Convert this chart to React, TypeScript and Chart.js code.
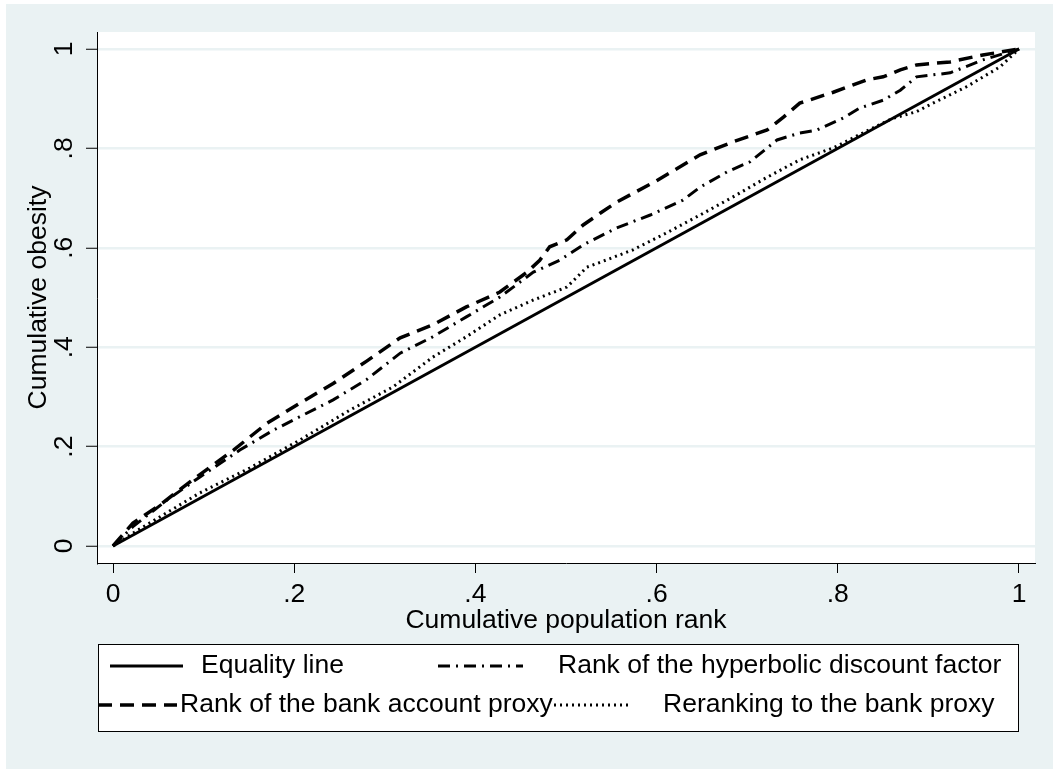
import React, { useEffect, useRef } from "react";
import { Chart, registerables } from "chart.js";

Chart.register(...registerables);

// ---------- data ----------
const EQ_X = [0, 1];
const EQ_Y = [0, 1];

const HYP_X = [0, 0.022, 0.06, 0.096, 0.14, 0.177, 0.206, 0.243, 0.28, 0.317, 0.353, 0.39, 0.427, 0.464, 0.493, 0.519, 0.556, 0.593, 0.629, 0.648, 0.678, 0.703, 0.733, 0.758, 0.777, 0.806, 0.824, 0.85, 0.869, 0.887, 0.924, 0.96, 1];
const HYP_Y = [0, 0.039, 0.093, 0.139, 0.193, 0.233, 0.26, 0.294, 0.335, 0.388, 0.421, 0.461, 0.501, 0.551, 0.575, 0.606, 0.64, 0.666, 0.696, 0.722, 0.753, 0.773, 0.817, 0.831, 0.837, 0.861, 0.881, 0.897, 0.917, 0.944, 0.952, 0.978, 1];

const BANK_X = [0, 0.022, 0.052, 0.085, 0.133, 0.17, 0.206, 0.243, 0.28, 0.317, 0.353, 0.39, 0.427, 0.457, 0.471, 0.482, 0.501, 0.519, 0.538, 0.556, 0.6, 0.648, 0.684, 0.722, 0.74, 0.758, 0.795, 0.832, 0.85, 0.869, 0.887, 0.924, 0.96, 1];
const BANK_Y = [0, 0.046, 0.083, 0.129, 0.193, 0.247, 0.287, 0.327, 0.372, 0.419, 0.445, 0.481, 0.511, 0.551, 0.575, 0.602, 0.616, 0.646, 0.67, 0.692, 0.735, 0.787, 0.813, 0.837, 0.863, 0.891, 0.913, 0.938, 0.944, 0.958, 0.968, 0.974, 0.988, 1];

const RR_X = [0, 0.022, 0.096, 0.151, 0.206, 0.262, 0.309, 0.353, 0.39, 0.427, 0.464, 0.501, 0.523, 0.538, 0.574, 0.611, 0.648, 0.684, 0.722, 0.758, 0.795, 0.832, 0.86, 0.887, 0.905, 0.942, 0.979, 1];
const RR_Y = [0, 0.026, 0.107, 0.157, 0.213, 0.274, 0.32, 0.38, 0.421, 0.465, 0.495, 0.521, 0.561, 0.571, 0.596, 0.63, 0.666, 0.702, 0.742, 0.777, 0.801, 0.835, 0.86, 0.874, 0.891, 0.924, 0.964, 1];

const TICK_VALUES = [0, 0.2, 0.4, 0.6, 0.8, 1];
const TICK_LABELS = ["0", ".2", ".4", ".6", ".8", "1"];
const SERIES_LABELS = [
  "Equality line",
  "Rank of the hyperbolic discount factor",
  "Rank of the bank account proxy",
  "Reranking to the bank proxy",
];
const X_TITLE = "Cumulative population rank";
const Y_TITLE = "Cumulative obesity";

// ---------- styles ----------
const BG = "#eaf2f3";
const GRID = "#eaf2f3";
const FONT_FAMILY = "'Liberation Sans', Arial, Helvetica, sans-serif";
const FONT_SIZE = 26.5;
const W = 1053;
const H = 770;

const LEGEND_BOX = { x: 98, y: 644, w: 920, h: 87 };
const LEGEND_LAYOUT = [
  { x1: 110, x2: 183, y: 666, tx: 201 },
  { x1: 438, x2: 523, y: 666, tx: 558 },
  { x1: 98, x2: 177, y: 705, tx: 180 },
  { x1: 554, x2: 630, y: 705, tx: 663 },
];

const zip = (xs: number[], ys: number[]) => xs.map((x, i) => ({ x, y: ys[i] }));

const tickLabel = (value: number) => {
  const i = TICK_VALUES.findIndex((t) => Math.abs(t - value) < 1e-9);
  return i >= 0 ? TICK_LABELS[i] : "";
};

const bgPlugin = {
  id: "stataBg",
  beforeDraw(chart: any) {
    const { ctx, chartArea } = chart;
    ctx.save();
    ctx.fillStyle = "#ffffff";
    ctx.fillRect(0, 0, chart.width, chart.height);
    ctx.fillStyle = BG;
    ctx.fillRect(6, 4, chart.width - 6, chart.height - 5);
    ctx.fillStyle = "#ffffff";
    ctx.fillRect(chartArea.left, chartArea.top, chartArea.right - chartArea.left, chartArea.bottom - chartArea.top);
    ctx.restore();
  },
};

const legendPlugin = {
  id: "stataLegend",
  afterDraw(chart: any) {
    const ctx = chart.ctx;
    ctx.save();
    ctx.fillStyle = "#ffffff";
    ctx.fillRect(LEGEND_BOX.x, LEGEND_BOX.y, LEGEND_BOX.w, LEGEND_BOX.h);
    ctx.strokeStyle = "#000";
    ctx.lineWidth = 1;
    ctx.setLineDash([]);
    ctx.strokeRect(LEGEND_BOX.x + 0.5, LEGEND_BOX.y + 0.5, LEGEND_BOX.w, LEGEND_BOX.h);
    chart.data.datasets.forEach((ds: any, i: number) => {
      const L = LEGEND_LAYOUT[i];
      ctx.beginPath();
      ctx.setLineDash(ds.borderDash || []);
      ctx.lineWidth = ds.borderWidth;
      ctx.strokeStyle = ds.borderColor;
      ctx.moveTo(L.x1, L.y);
      ctx.lineTo(L.x2, L.y);
      ctx.stroke();
      ctx.setLineDash([]);
      ctx.fillStyle = "#000";
      ctx.font = `${FONT_SIZE}px ${FONT_FAMILY}`;
      ctx.textBaseline = "middle";
      ctx.textAlign = "left";
      ctx.fillText(ds.label, L.tx, L.y);
    });
    ctx.restore();
  },
};

export default function App() {
  const ref = useRef<HTMLCanvasElement | null>(null);

  useEffect(() => {
    if (!ref.current) return;
    const font = { family: FONT_FAMILY, size: FONT_SIZE, lineHeight: 1.2 };
    const chart = new Chart(ref.current, {
      type: "line",
      data: {
        datasets: [
          { label: SERIES_LABELS[0], data: zip(EQ_X, EQ_Y), borderColor: "#000", borderWidth: 3, borderDash: [] },
          { label: SERIES_LABELS[1], data: zip(HYP_X, HYP_Y), borderColor: "#000", borderWidth: 3, borderDash: [12, 6, 2, 6] },
          { label: SERIES_LABELS[2], data: zip(BANK_X, BANK_Y), borderColor: "#000", borderWidth: 3.5, borderDash: [14, 8] },
          { label: SERIES_LABELS[3], data: zip(RR_X, RR_Y), borderColor: "#000", borderWidth: 3, borderDash: [2, 4] },
        ],
      },
      options: {
        animation: false,
        responsive: false,
        maintainAspectRatio: false,
        layout: { padding: { left: 0, top: 32, right: 18, bottom: 133 } },
        plugins: { legend: { display: false }, tooltip: { enabled: false } },
        elements: { point: { radius: 0 }, line: { tension: 0 } },
        scales: {
          x: {
            type: "linear",
            min: -16 / 906,
            max: 1 + 16 / 906,
            afterBuildTicks: (s: any) => {
              s.ticks = TICK_VALUES.map((v) => ({ value: v }));
            },
            afterFit: (s: any) => {
              s.height = 74;
            },
            ticks: {
              callback: (v: any) => tickLabel(Number(v)),
              font,
              color: "#000",
              padding: 6,
              maxRotation: 0,
              autoSkip: false,
            },
            grid: { drawOnChartArea: false, tickLength: 10, tickColor: "#000", tickWidth: 1 },
            border: { display: true, color: "#000", width: 1 },
            title: { display: true, text: X_TITLE, font, color: "#000", padding: { top: 0, bottom: 0 } },
          },
          y: {
            type: "linear",
            min: -17 / 497,
            max: 1 + 17 / 497,
            afterBuildTicks: (s: any) => {
              s.ticks = TICK_VALUES.map((v) => ({ value: v }));
            },
            afterFit: (s: any) => {
              s.width = 97;
            },
            ticks: {
              callback: (v: any) => tickLabel(Number(v)),
              font,
              color: "#000",
              padding: 10,
              minRotation: 90,
              maxRotation: 90,
              crossAlign: "center",
              autoSkip: false,
            },
            grid: { color: GRID, lineWidth: 2.5, tickLength: 11, tickColor: "#000", tickWidth: 1 },
            border: { display: true, color: "#000", width: 1 },
            title: { display: true, text: Y_TITLE, font, color: "#000", padding: { top: 23, bottom: 0 } },
          },
        },
      } as any,
      plugins: [bgPlugin, legendPlugin],
    });
    return () => chart.destroy();
  }, []);

  return (
    <div style={{ position: "fixed", left: 0, top: 0, width: W, height: H, background: "#fff" }}>
      <canvas ref={ref} width={W} height={H} style={{ display: "block", width: W, height: H }} />
    </div>
  );
}
